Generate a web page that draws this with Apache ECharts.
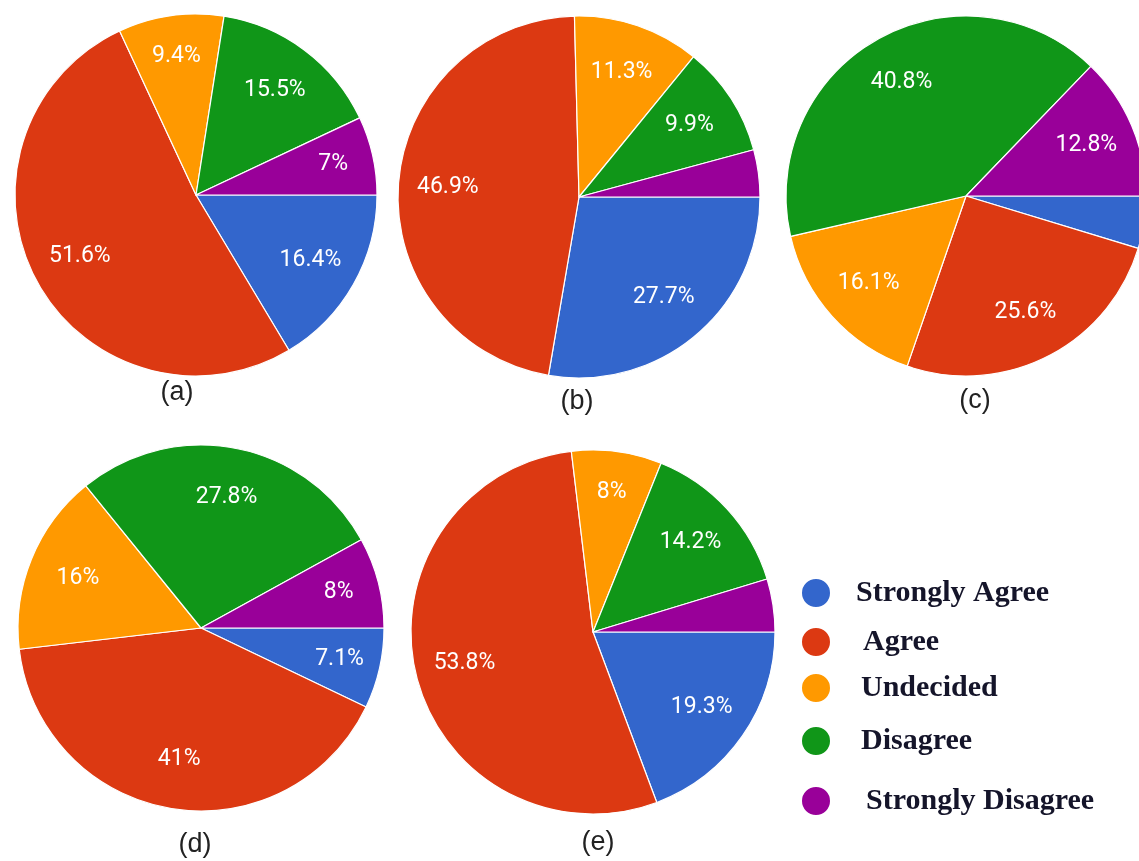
<!DOCTYPE html>
<html>
<head>
<meta charset="utf-8">
<script src="https://cdn.jsdelivr.net/npm/echarts@6/dist/echarts.min.js"></script>
<style>html,body{margin:0;padding:0;background:#fff;}#chart{width:1139px;height:861px;}</style>
</head>
<body>
<div id="chart"></div>
<script>
// Categories (legend order, slice order clockwise from 3 o'clock)
const categories = ['Strongly Agree', 'Agree', 'Undecided', 'Disagree', 'Strongly Disagree'];
const colors = ['#3366cc', '#dc3912', '#ff9900', '#109618', '#990099'];
// Percentages per panel
const panelA = [16.4, 51.6, 9.4, 15.5, 7];
const panelB = [27.7, 46.9, 11.3, 9.9, 4.2];
const panelC = [4.7, 25.6, 16.1, 40.8, 12.8];
const panelD = [7.1, 41, 16, 27.8, 8];
const panelE = [19.3, 53.8, 8, 14.2, 4.7];
const captions = ['(a)', '(b)', '(c)', '(d)', '(e)'];

const panels = [
  { values: panelA, center: [196, 195], r: 181, cap: [177, 393] },
  { values: panelB, center: [579, 197], r: 181, cap: [577, 402] },
  { values: panelC, center: [966, 196], r: 180, cap: [975, 401] },
  { values: panelD, center: [201, 628], r: 183, cap: [195, 845] },
  { values: panelE, center: [593, 632], r: 182, cap: [598, 843] }
];

function labelSeries(p, i, tag, inner, test) {
  return {
    type: 'pie', name: tag + i, center: p.center, radius: [p.r * inner, p.r],
    startAngle: 0, clockwise: true, avoidLabelOverlap: false, animation: false, silent: true,
    itemStyle: { color: 'rgba(0,0,0,0)', borderWidth: 0 },
    label: {
      show: true, position: 'inside', color: '#ffffff',
      fontFamily: 'Roboto', fontSize: 23,
      formatter: q => test(q.value) ? q.value + '%' : ''
    },
    labelLine: { show: false },
    emphasis: { disabled: true },
    data: categories.map((c, k) => ({ name: c, value: p.values[k] }))
  };
}

const series = [];
panels.forEach((p, i) => {
  series.push({
    type: 'pie', name: 'pie' + i, center: p.center, radius: [0, p.r],
    startAngle: 0, clockwise: true, avoidLabelOverlap: false, animation: false,
    itemStyle: { borderColor: '#ffffff', borderWidth: 1.2 },
    label: { show: false }, labelLine: { show: false },
    emphasis: { disabled: true },
    data: categories.map((c, k) => ({ name: c, value: p.values[k] }))
  });
  // larger slices: label at ~0.71 r ; small slices pushed outward (~0.76 r)
  series.push(labelSeries(p, i, 'lblL', 0.42, v => v >= 9.5));
  series.push(labelSeries(p, i, 'lblS', 0.52, v => v >= 5 && v < 9.5));
});

const legendTops = [592, 641, 687, 740, 800];
const legendPads = [20, 27, 25, 25, 30];
const legends = categories.map((c, k) => ({
  data: [c], left: 800, top: legendTops[k] - 15, orient: 'vertical', padding: 0,
  icon: 'circle', itemWidth: 30, itemHeight: 30, selectedMode: false,
  textStyle: {
    fontFamily: 'Liberation Serif', fontWeight: 'bold', fontSize: 30, color: '#15152a',
    padding: [0, 0, 0, legendPads[k]]
  }
}));

const graphics = panels.map((p, i) => ({
  type: 'text', x: p.cap[0], y: p.cap[1],
  style: {
    text: captions[i], align: 'center', verticalAlign: 'middle',
    textAlign: 'center', textVerticalAlign: 'middle',
    font: '27px "Liberation Sans", Arial, sans-serif', fill: '#222222'
  }
}));

const chart = echarts.init(document.getElementById('chart'));
chart.setOption({
  backgroundColor: '#ffffff',
  color: colors,
  animation: false,
  legend: legends,
  series: series,
  graphic: graphics
});
</script>
</body>
</html>
